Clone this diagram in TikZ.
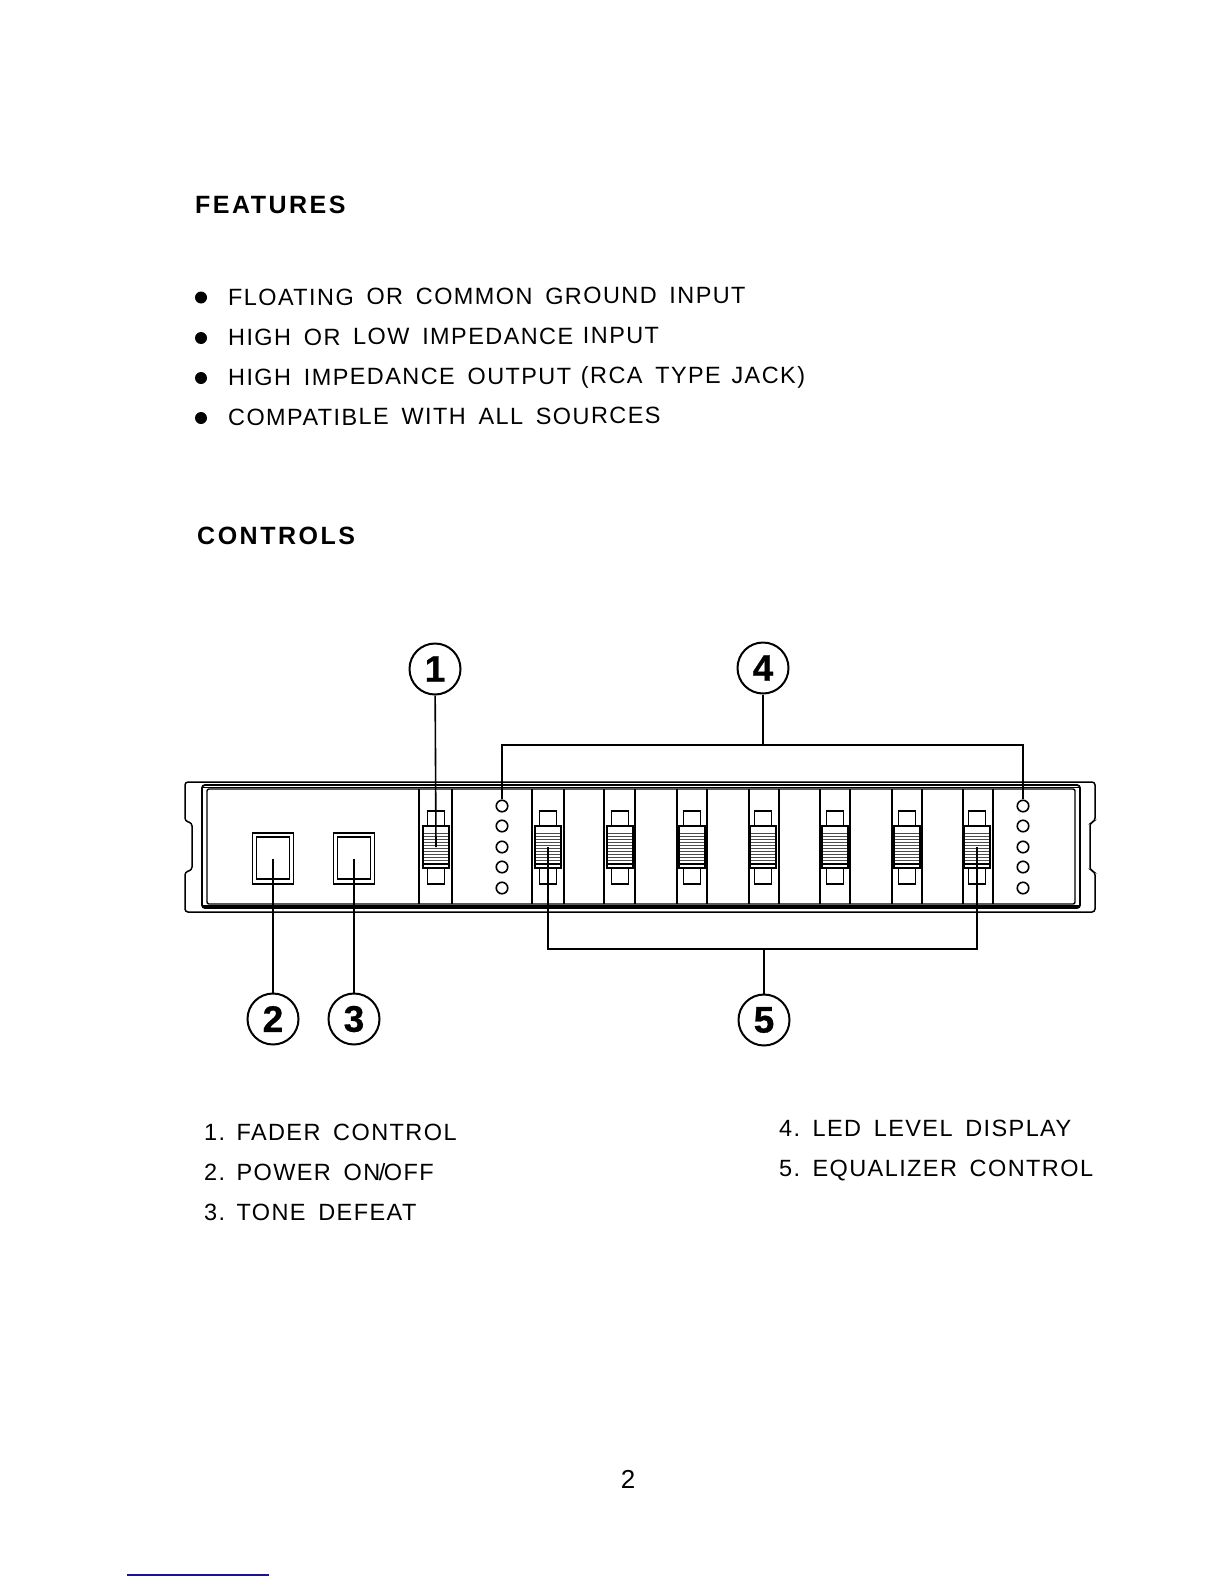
\documentclass[tikz,border=0pt]{standalone}
\usepackage{fontspec}
\setmainfont{Liberation Sans}
\newfontfamily\headfont[LetterSpace=10]{Liberation Sans Bold}
\newfontfamily\tagfont[FakeBold=0.8]{Liberation Sans Bold}
\newfontfamily\listfont[LetterSpace=6,WordSpace=1.6]{Liberation Sans}
\usetikzlibrary{positioning}
\definecolor{scanblue}{RGB}{20,20,150}

\begin{document}
\begin{tikzpicture}[
  x=1pt, y=-1pt,
  node distance=6pt and 8pt,
  heading/.style={anchor=base west, inner sep=0pt, font=\fontsize{25}{30}\selectfont\headfont},
  item/.style={anchor=base west, inner sep=0pt, font=\fontsize{23.5}{28}\selectfont\listfont},
  bullet/.style={circle, fill=black, inner sep=0pt, minimum size=12pt},
  tag/.style={circle, draw, line width=2pt, inner sep=0pt, minimum size=51pt, font=\fontsize{37}{40}\selectfont\tagfont},
  led/.style={circle, draw, line width=1.6pt, inner sep=0pt, minimum size=11.5pt},
  leader/.style={line width=1.6pt},
  case/.style={line width=1.5pt, rounded corners=3pt},
  slot/.style={line width=1.7pt},
  swbox/.style={draw, line width=1.6pt, inner sep=0pt, minimum width=41pt, minimum height=51pt}
]
\useasboundingbox (0,0) rectangle (1224,1584);
% text
\node[heading] (features) at (195,213) {FEATURES};
\node[heading] (controls) at (197,544) {CONTROLS};
\node[bullet] (b1) at (201,297.5) {};
\node[bullet] (b2) at (201,338) {};
\node[bullet] (b3) at (201,378) {};
\node[bullet] (b4) at (201,418) {};
\node[item, rotate=0.25] (f1) at (228,305.5) {FLOATING OR COMMON GROUND INPUT};
\node[item, rotate=0.25] (f2) at (228,345.5) {HIGH OR LOW IMPEDANCE\kern-3pt{} INPUT};
\node[item, rotate=0.25] (f3) at (228,385.5) {HIGH IMPEDANCE OUTPUT\kern-3pt{} (RCA TYPE\kern-2pt{} JACK)};
\node[item, rotate=0.25] (f4) at (228,425.5) {COMPATIBLE WITH ALL SOURCES};
\node[item] (l1) at (204,1140) {1.\kern-4pt{} FADER CONTROL};
\node[item] (l2) at (204,1180) {2.\kern-4pt{} POWER ON\kern-1.5pt/\kern-1.5pt OFF};
\node[item] (l3) at (204,1220) {3.\kern-4pt{} TONE DEFEAT};
\node[item] (l4) at (779,1136) {4.\kern-3pt{} LED LEVEL DISPLAY};
\node[item] (l5) at (779,1176) {5.\kern-3pt{} EQUALIZER CONTROL};
\node[anchor=base, inner sep=0pt, font=\fontsize{26}{30}\selectfont] (page) at (628,1488) {2};
% casing
\draw[case] (192,782) -- (1095,782) -- (1095,821) -- (1090,823) -- (1090,870) -- (1095,872) -- (1095,912)
  -- (185,912) -- (185,872) -- (192,870) -- (192,823) -- (185,821) -- (185,782) -- cycle;
\draw[line width=1.8pt, rounded corners=3pt] (202,785) rectangle (1080,908);
\draw[line width=1.4pt, rounded corners=2pt] (207,789) rectangle (1075,904);
\draw[line width=1.2pt] (202,787.5) -- (1080,787.5);
\draw[line width=1.2pt] (202,906) -- (1080,906);
% fader slots
\foreach \xa/\xb in {419/452,532/564,604/635,677/707,749/779,820/850,892/922,963/993}
  \draw[slot] (\xa,789) -- (\xa,904) (\xb,789) -- (\xb,904);
% faders
\foreach \xc/\name in {436/fa,548/fb,620/fc,692/fd,763/fe,835/ff,907/fg,977/fh}{
  \draw[line width=1.5pt, fill=white] (\xc-8.5,811) rectangle (\xc+8.5,884);
  \draw[line width=1.6pt, fill=white] (\xc-13,826) rectangle (\xc+13,868);
  \foreach \yg in {833,836,...,861}
    \draw[line width=0.8pt, black!70] (\xc-12,\yg) -- (\xc+12,\yg);
  \draw[line width=1.2pt] (\xc-13,864) -- (\xc+13,864);
  \coordinate (\name) at (\xc,847);
}
% switches
\node[swbox] (sw2) at (273,858.5) {};
\node[swbox] (sw3) at (354,858.5) {};
\node[draw, line width=1.9pt, inner sep=0pt, minimum width=33pt, minimum height=42pt] (sw2in) at (273,858) {};
\node[draw, line width=1.9pt, inner sep=0pt, minimum width=33pt, minimum height=42pt] (sw3in) at (354,858) {};
% leds
\foreach \n/\yl in {1/806,2/826,3/847,4/867,5/888}{
  \node[led] (la\n) at (502,\yl) {};
  \node[led] (lb\n) at (1023,\yl) {};
}
% callouts
\node[tag] (c1) at (435,669) {1};
\node[tag] (c2) at (273,1019) {2};
\node[tag] (c3) at (354,1019) {3};
\node[tag] (c4) at (763,668) {4};
\node[tag] (c5) at (764,1020) {5};
% leaders
\draw[leader] (c1) -- (fa);
\draw[leader] (c2) -- (sw2.center);
\draw[leader] (c3) -- (sw3.center);
\coordinate (t4) at (763,745);
\coordinate (t5) at (764,949);
\draw[leader] (c4) -- (t4);
\draw[leader] (la1) |- (t4) -| (lb1);
\draw[leader] (c5) -- (t5);
\draw[leader] (fb) |- (t5) -| (fh);
% scan line
\coordinate (sa) at (127,1575);
\coordinate (sb) at (269,1575);
\draw[scanblue, line width=1.2pt] (sa) -- (sb);
\end{tikzpicture}
\end{document}
